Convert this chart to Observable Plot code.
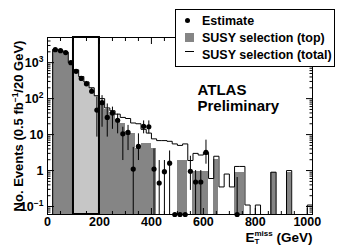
<!DOCTYPE html>
<html><head><meta charset="utf-8">
<script src="https://cdn.jsdelivr.net/npm/d3@7"></script>
<script src="https://cdn.jsdelivr.net/npm/@observablehq/plot@0.6"></script>
<style>
body{margin:0;background:#fff;}
#wrap{position:relative;width:337px;height:246px;font-family:"Liberation Sans",Arial,sans-serif;font-weight:bold;color:#000;overflow:hidden;}
#legend{position:absolute;left:175px;top:9px;width:160px;height:58px;border:1px solid #000;background:#fff;box-sizing:border-box;}
.row{position:absolute;left:26px;font-size:12.5px;line-height:14px;white-space:nowrap;}
.mk{position:absolute;}
</style></head>
<body><div id="wrap"></div>
<script>
// ---- data (20 GeV bins) ----
const binLow = [0,20,40,60,80,100,120,140,160,180,200,220,240,260,280,300,320,340,360,380,400,420,440,460,480,500,520,540,560,580,600,620,640,660,680,700,720,740,760,780,800,820,840,860,880,900,920,940,960,980,1000];
const binWidth = 20;
const topSel = [0,2300,2200,1950,1000,630,410,290,200,120,72,50,40,27,20,12,11,4,5.5,5.5,4,0,0,0,0,1.9,1.9,0,0.93,0.93,0.93,0,2.0,0,0,0,0.9,0.9,0,0,0,0,0,0.9,0,0,0.9,0,0,0,0];
const totalSel = [0,2300,2200,1950,1000,630,410,290,200,120,100,55,46,37,30,28,21,20,14,11,7.6,6.8,6.8,6.5,5.5,5,5.5,1.9,3.0,2.7,3.2,0.6,2.5,0.35,0.8,0.35,1.3,1.3,0.11,0,0.11,0,0,0.9,0,0,1.0,0,0,0,0.11];
const estimate = [null,2300,2150,1900,1000,575,365,257,160,48,77,30,40,25,10.5,11.5,1.1,4.7,17,16.5,1.1,0.45,0.93,1.6,0,0,0,0.95,0.48,0.48,3.2,null,null,null,null,null,0,null,null,null,null,null,null,null,null,null,null,null,null,null,null];
const estLow = [null,2150,2050,1780,900,510,320,220,135,8.5,16,8.5,14,10.5,1.9,3.6,0,1.9,10.5,10.5,0,0,0,0,null,null,null,0.28,0,0,1.5,null,null,null,null,null,0,null,null,null,null,null,null,null,null,null,null,null,null,null,null];
const estHigh = [null,2450,2350,2030,1110,640,410,300,190,110,121,71,58,37,16,18,4.4,10.5,24,24,4,1.9,1.9,3.5,null,null,null,2.5,1,1,7,null,null,null,null,null,0.64,null,null,null,null,null,null,null,null,null,null,null,null,null,null];
const controlRegion = [100, 200];
const xTicks = [0,200,400,600,800,1000];
const yTicks = [0.1,1,10,100,1000];
const yTickLabels = ["10^-1","1","10","10^2","10^3"];
const xDomain = [0, 1020];
const yDomain = [0.06, 5000];

const yMin = yDomain[0];
const clamp = v => Math.max(v, yMin);
const bins = binLow.map((x0, i) => ({x0, x1: x0 + binWidth, top: topSel[i], total: totalSel[i], est: estimate[i], lo: estLow[i], hi: estHigh[i]}));
const mid = d => (d.x0 + d.x1) / 2;
const inCR = d => d.x0 >= controlRegion[0] && d.x1 <= controlRegion[1];
const stepPts = bins.flatMap(d => [{x: d.x0, y: clamp(d.total)}, {x: d.x1, y: clamp(d.total)}]);
stepPts.push({x: bins[bins.length - 1].x1, y: yMin});

const xMinor = d3.range(xDomain[0], xDomain[1], 50).filter(v => !xTicks.includes(v));
const yMinor = [];
for (let e = -2; e <= 3; e++) for (let m = 2; m <= 9; m++) { const v = m * Math.pow(10, e); if (v > yDomain[0] && v < yDomain[1]) yMinor.push(v); }

const DARK = "#858585", LIGHT = "#c6c6c6";

const chart = Plot.plot({
  width: 337, height: 246,
  marginLeft: 47, marginRight: 25, marginTop: 37, marginBottom: 32,
  style: {fontFamily: '"Liberation Sans", Arial, sans-serif', fontWeight: "bold", fontSize: "12.5px", color: "#000", background: "transparent", overflow: "visible"},
  x: {domain: xDomain},
  y: {type: "log", domain: yDomain},
  marks: [
    Plot.rect(bins.filter(d => d.top > 0 && !inCR(d)), {x1: "x0", x2: "x1", y1: () => yMin, y2: "top", fill: DARK, shapeRendering: "crispEdges"}),
    Plot.rect(bins.filter(d => d.top > 0 && inCR(d)), {x1: "x0", x2: "x1", y1: () => yMin, y2: "top", fill: LIGHT, shapeRendering: "crispEdges"}),
    Plot.line(stepPts, {x: "x", y: "y", stroke: "#000", strokeWidth: 1}),
    Plot.rect([controlRegion], {x1: d => d[0], x2: d => d[1], y1: () => yDomain[0], y2: () => yDomain[1], stroke: "#000", strokeWidth: 2, fill: "none"}),
    Plot.ruleX(bins.filter(d => d.est != null && d.hi != null), {x: mid, y1: d => clamp(d.lo), y2: "hi", stroke: "#000", strokeWidth: 1}),
    Plot.dot(bins.filter(d => d.est != null), {x: mid, y: d => clamp(d.est), r: 2.6, fill: "#000", stroke: "none"}),
    Plot.frame({stroke: "#000"}),
    // inward ticks
    Plot.axisX({ticks: xTicks, tickSize: -6, fill: "none", label: null, stroke: "#000"}),
    Plot.axisX({ticks: xMinor, tickSize: -3, fill: "none", label: null, stroke: "#000"}),
    Plot.axisX({anchor: "top", ticks: xTicks, tickSize: -6, fill: "none", label: null, stroke: "#000"}),
    Plot.axisX({anchor: "top", ticks: xMinor, tickSize: -3, fill: "none", label: null, stroke: "#000"}),
    Plot.axisY({ticks: yTicks, tickSize: -7, fill: "none", label: null, stroke: "#000"}),
    Plot.axisY({ticks: yMinor, tickSize: -3.5, fill: "none", label: null, stroke: "#000"}),
    Plot.axisY({anchor: "right", ticks: yTicks, tickSize: -7, fill: "none", label: null, stroke: "#000"}),
    Plot.axisY({anchor: "right", ticks: yMinor, tickSize: -3.5, fill: "none", label: null, stroke: "#000"}),
    // tick labels
    Plot.axisX({ticks: xTicks, tickSize: 0, tickPadding: 3, tickFormat: d => String(d), label: null, fill: "#000", fontSize: 12.5}),
    Plot.axisY({ticks: yTicks, tickSize: 0, tickPadding: 4, tickFormat: d => yTickLabels[yTicks.indexOf(d)], label: null, fill: "#000", fontSize: 12.5}),
    // texts
    Plot.text(["ATLAS"], {frameAnchor: "top-left", dx: 150, dy: 57, textAnchor: "start", lineAnchor: "bottom", fontSize: 15, fontWeight: "bold", fill: "#000"}),
    Plot.text(["Preliminary"], {frameAnchor: "top-left", dx: 150, dy: 73, textAnchor: "start", lineAnchor: "bottom", fontSize: 15, fontWeight: "bold", fill: "#000"}),
    Plot.text(["No. Events (0.5 fb-1/20 GeV)"], {frameAnchor: "left", dx: -29, rotate: -90, textAnchor: "middle", lineAnchor: "middle", fontSize: 13, fontWeight: "bold", fill: "#000"}),
    Plot.text(["E (GeV)"], {frameAnchor: "bottom-right", dy: 23, dx: 0, textAnchor: "end", lineAnchor: "middle", fontSize: 13.5, fontWeight: "bold", fill: "#000"})
  ]
});

const wrap = document.getElementById("wrap");
wrap.appendChild(chart);
const svg = d3.select(chart);

svg.selectAll("text").each(function() {
  const s = this.textContent;
  const t = d3.select(this);
  let m;
  if ((m = s.match(/^10\^(.+)$/))) {
    this.textContent = "";
    t.append("tspan").text("10");
    t.append("tspan").attr("dy", "-5").attr("font-size", "8.5px").text(m[1].replace("-", "\u2212"));
  } else if (s === "No. Events (0.5 fb-1/20 GeV)") {
    this.textContent = "";
    t.append("tspan").text("No. Events (0.5 fb");
    t.append("tspan").attr("dy", "-5").attr("font-size", "8.5px").text("\u22121");
    t.append("tspan").attr("dy", "5").text("/20 GeV)");
  } else if (s === "E (GeV)") {
    this.textContent = "";
    t.append("tspan").text("E");
    t.append("tspan").attr("dy", "2").attr("font-size", "8px").text("T");
    t.append("tspan").attr("dx", "-5").attr("dy", "-8").attr("font-size", "8px").text("miss");
    t.append("tspan").attr("dy", "6").text(" (GeV)");
  }
});

// legend
const lg = document.createElement("div");
lg.id = "legend";
const legendItems = [
  {label: "Estimate", kind: "dot"},
  {label: "SUSY selection (top)", kind: "box"},
  {label: "SUSY selection (total)", kind: "line"}
];
legendItems.forEach((it, i) => {
  const top = 4 + i * 17;
  const r = document.createElement("div");
  r.className = "row"; r.style.top = top + "px"; r.textContent = it.label;
  lg.appendChild(r);
  const m = document.createElement("div");
  m.className = "mk";
  if (it.kind === "dot") { Object.assign(m.style, {left: "9px", top: (top + 4) + "px", width: "5px", height: "5px", borderRadius: "50%", background: "#000"}); }
  if (it.kind === "box") { Object.assign(m.style, {left: "9px", top: (top + 2) + "px", width: "9px", height: "9px", background: DARK}); }
  if (it.kind === "line") { Object.assign(m.style, {left: "9px", top: (top + 3) + "px", width: "9px", height: "1px", background: "#000"}); }
  lg.appendChild(m);
});
wrap.appendChild(lg);
</script></body></html>
